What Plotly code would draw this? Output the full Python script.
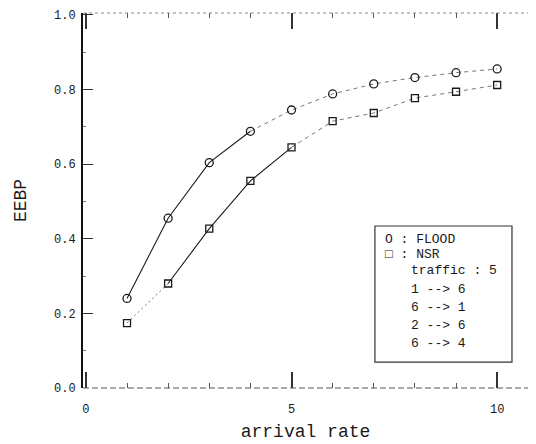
import plotly.graph_objects as go

arrival_rate = [1, 2, 3, 4, 5, 6, 7, 8, 9, 10]
flood_eebp = [0.240, 0.455, 0.604, 0.688, 0.745, 0.788, 0.815, 0.832, 0.845, 0.855]
nsr_eebp = [0.174, 0.280, 0.427, 0.555, 0.645, 0.715, 0.737, 0.777, 0.794, 0.812]

x_ticks = [0, 5, 10]
y_ticks = [0.0, 0.2, 0.4, 0.6, 0.8, 1.0]
legend_lines = ["traffic : 5", "1 --> 6", "6 --> 1", "2 --> 6", "6 --> 4"]

FONT = "Liberation Mono, Courier New, monospace"
INK = "#1a1a1a"
FAINT = "#777777"

fig = go.Figure()

# FLOOD: solid early part, faint dashed later part (as in the scan)
fig.add_trace(go.Scatter(x=arrival_rate[0:4], y=flood_eebp[0:4], mode="lines",
                         line=dict(color=INK, width=1.1), showlegend=False, hoverinfo="skip"))
fig.add_trace(go.Scatter(x=arrival_rate[3:], y=flood_eebp[3:], mode="lines",
                         line=dict(color=FAINT, width=1, dash="4px,4px"), showlegend=False, hoverinfo="skip"))
# NSR: faint first segment, solid middle, faint dashed tail
fig.add_trace(go.Scatter(x=arrival_rate[0:2], y=nsr_eebp[0:2], mode="lines",
                         line=dict(color=FAINT, width=1, dash="2px,3px"), showlegend=False, hoverinfo="skip"))
fig.add_trace(go.Scatter(x=arrival_rate[1:5], y=nsr_eebp[1:5], mode="lines",
                         line=dict(color=INK, width=1.1), showlegend=False, hoverinfo="skip"))
fig.add_trace(go.Scatter(x=arrival_rate[4:], y=nsr_eebp[4:], mode="lines",
                         line=dict(color=FAINT, width=1, dash="4px,4px"), showlegend=False, hoverinfo="skip"))

fig.add_trace(go.Scatter(x=arrival_rate, y=flood_eebp, mode="markers", name="FLOOD",
                         marker=dict(symbol="circle-open", size=8, color=INK, line=dict(width=1.3)),
                         showlegend=False))
fig.add_trace(go.Scatter(x=arrival_rate, y=nsr_eebp, mode="markers", name="NSR",
                         marker=dict(symbol="square-open", size=7, color=INK, line=dict(width=1.3)),
                         showlegend=False))

# Frame lines (top dotted, bottom dashed) as drawn in the scan
fig.add_shape(type="line", xref="paper", yref="paper", x0=0, x1=1, y0=1, y1=1,
              line=dict(color="#8a8a8a", width=1, dash="dot"))
fig.add_shape(type="line", xref="paper", yref="paper", x0=0, x1=1, y0=0, y1=0,
              line=dict(color="#555555", width=1, dash="6px,3px"))

# Legend box
fig.add_shape(type="rect", xref="paper", yref="paper", x0=0.656, x1=0.964, y0=0.069, y1=0.432,
              line=dict(color="#333333", width=1.2))

ann_font = dict(family=FONT, size=13, color=INK)
fig.add_annotation(xref="paper", yref="paper", x=0.675, y=0.397, xanchor="left", yanchor="middle",
                   text="O : FLOOD", showarrow=False, font=ann_font)
fig.add_annotation(xref="paper", yref="paper", x=0.675, y=0.355, xanchor="left", yanchor="middle",
                   text="\u25a1 : NSR", showarrow=False, font=ann_font)
legend_y = [0.313, 0.264, 0.216, 0.168, 0.120]
for txt, yy in zip(legend_lines, legend_y):
    fig.add_annotation(xref="paper", yref="paper", x=0.733, y=yy, xanchor="left", yanchor="middle",
                       text=txt, showarrow=False, font=ann_font)

# The page adds an 8px body margin, so the figure is 8px smaller than the window.
fig.update_layout(
    width=528, height=436,
    margin=dict(l=75, r=8, t=5, b=56),
    paper_bgcolor="white", plot_bgcolor="white",
    font=dict(family=FONT, size=12, color=INK),
    xaxis=dict(
        range=[-0.07, 10.75], tickvals=x_ticks, ticktext=[str(v) for v in x_ticks],
        ticks="inside", ticklen=16, tickwidth=1.5, tickcolor="#333333",
        minor=dict(dtick=1, tick0=0, ticks="inside", ticklen=5, tickcolor="#555555", tickwidth=1),
        showline=False, mirror="ticks", showgrid=False, zeroline=False, automargin=False,
        tickfont=dict(family=FONT, size=12, color=INK), ticklabelstandoff=12,
        title=dict(text="arrival rate", font=dict(family=FONT, size=18, color=INK), standoff=8),
    ),
    yaxis=dict(
        range=[0, 1.005], tickvals=y_ticks, ticktext=["%.1f" % v for v in y_ticks],
        ticks="inside", ticklen=10, tickwidth=1, tickcolor="#333333",
        minor=dict(dtick=0.1, tick0=0, ticks="inside", ticklen=3, tickcolor="#777777"),
        showline=True, linecolor="#111111", linewidth=2, mirror=False,
        showgrid=False, zeroline=False, automargin=False,
        tickfont=dict(family=FONT, size=12, color=INK),
        ticklabelstandoff=3,
        title=dict(text="EEBP", font=dict(family=FONT, size=18, color=INK), standoff=23),
    ),
)

fig.write_html("out.html")
